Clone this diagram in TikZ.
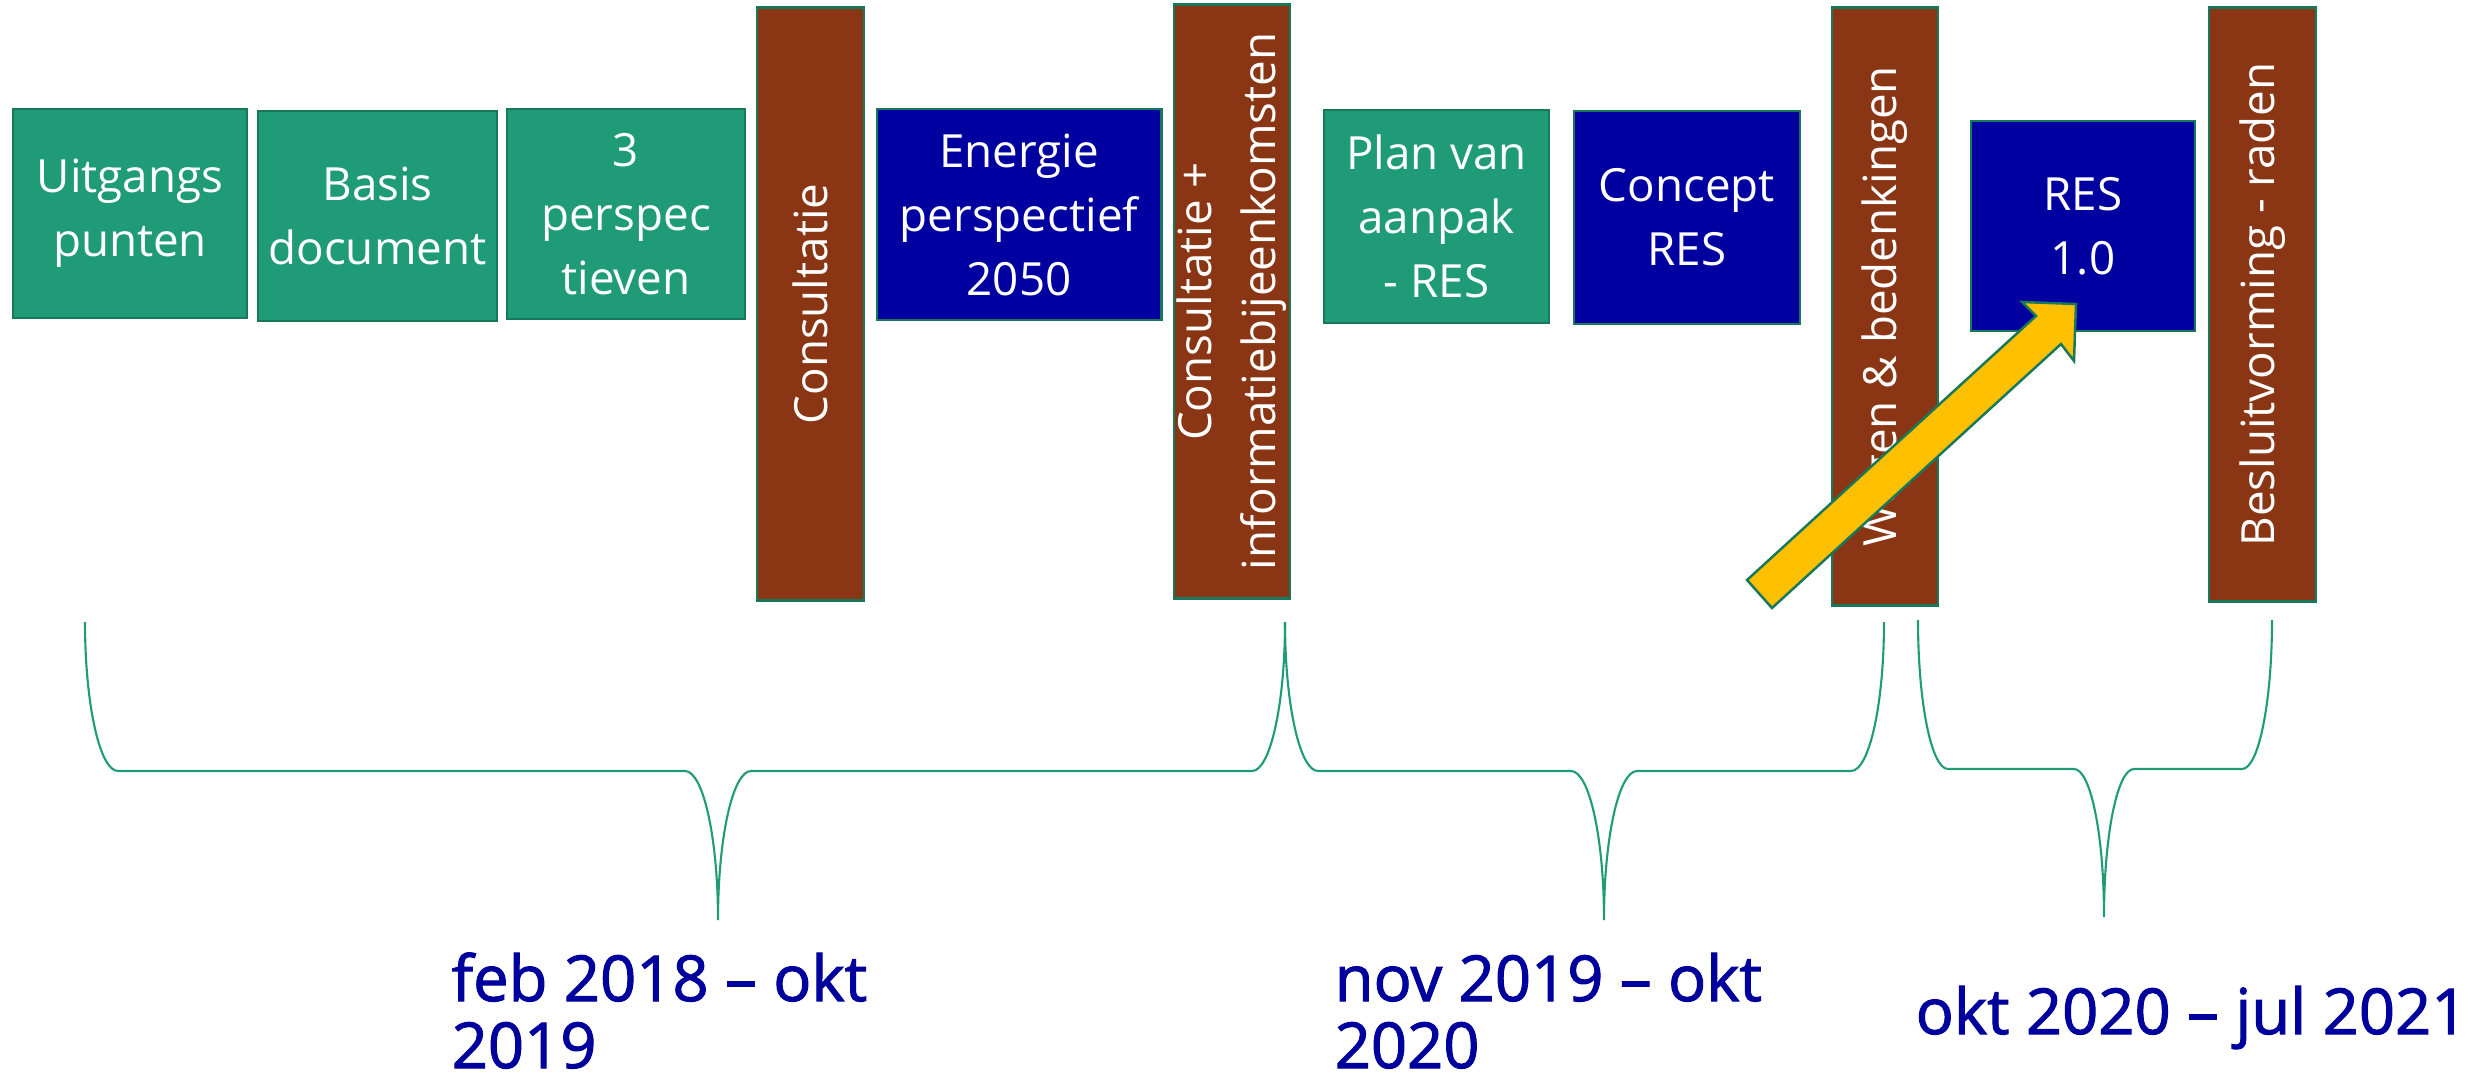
\documentclass[tikz,border=0pt]{standalone}
\usepackage{fontspec}
\setmainfont{Open Sans}
\newfontfamily\datefont[FakeBold=1.6]{Open Sans}
\definecolor{boxgreen}{HTML}{1F9B78}
\definecolor{edgegreen}{HTML}{17785C}
\definecolor{boxblue}{HTML}{0000A0}
\definecolor{boxbrown}{HTML}{8A3615}
\definecolor{arrowyellow}{HTML}{FFC000}
\definecolor{datetext}{HTML}{00009C}
\begin{document}
\begin{tikzpicture}[x=0.01cm,y=-0.01cm,
  box/.style={draw=edgegreen,line width=0.8pt,inner sep=0pt,text=white,align=center,font=\fontsize{13}{18.2}\selectfont},
  greenbox/.style={box,fill=boxgreen},
  bluebox/.style={box,fill=boxblue},
  vbar/.style={box,fill=boxbrown,rotate=90},
  brace/.style={draw=boxgreen,line width=0.6pt},
  datelabel/.style={text=datetext,inner sep=0pt,anchor=base west,font=\datefont\fontsize{18}{19.3}\selectfont},
  blockarrow/.style={fill=arrowyellow,draw=edgegreen,line width=0.7pt,line join=miter}]
\useasboundingbox (0,0) rectangle (2481,1075);

% boxes
\node[greenbox,minimum width=2.34cm,minimum height=2.09cm] (b1) at (130,213.5) {Uitgangs\\punten};
\node[greenbox,minimum width=2.39cm,minimum height=2.10cm] (b2) at (377.5,216) {Basis\\document};
\node[greenbox,minimum width=2.38cm,minimum height=2.10cm] (b3) at (626,214) {3\\perspec\\tieven};
\node[vbar,minimum width=5.92cm,minimum height=1.07cm] (c1) at (810.5,304) {Consultatie};
\node[bluebox,minimum width=2.84cm,minimum height=2.11cm] (b4) at (1019,214.5) {Energie\\perspectief\\2050};
\node[vbar,minimum width=5.93cm,minimum height=1.16cm] (c2) at (1232,301.5) {Consultatie +\\informatiebijeenkomsten};
\node[greenbox,minimum width=2.25cm,minimum height=2.13cm] (b5) at (1436.5,216.5) {Plan van\\aanpak\\- RES};
\node[bluebox,minimum width=2.26cm,minimum height=2.13cm] (b6) at (1687,217.5) {Concept\\RES};
\node[vbar,minimum width=5.97cm,minimum height=1.06cm] (c3) at (1885,306.5) {Wegen \& bedenkingen};
\node[bluebox,minimum width=2.24cm,minimum height=2.10cm] (b7) at (2083,226) {RES\\1.0};
\node[vbar,minimum width=5.93cm,minimum height=1.07cm] (c4) at (2262.5,304.5) {Besluitvorming - raden};

% yellow block arrow
\coordinate (arrowtail) at (1759.5,594);
\coordinate (arrowtip) at (2076,304);
\path[blockarrow] (1747,580) -- (2036,316) -- (2022,302) -- (arrowtip)
  -- (2074,361) -- (2061,344) -- (1772,608) -- cycle;

% braces
\draw[brace] (85,622) .. controls (85,704.3) and (99.8,771) .. (118,771) -- (685,771)
  .. controls (703.2,771) and (718,837.7) .. (718,920)
  .. controls (718,837.7) and (732.8,771) .. (751,771) -- (1252,771)
  .. controls (1270.2,771) and (1285,704.3) .. (1285,622);
\draw[brace] (1285,622) .. controls (1285,704.3) and (1299.8,771) .. (1318,771) -- (1571,771)
  .. controls (1589.2,771) and (1604,837.7) .. (1604,920)
  .. controls (1604,837.7) and (1618.8,771) .. (1637,771) -- (1851,771)
  .. controls (1869.2,771) and (1884,704.3) .. (1884,622);
\draw[brace] (1918,620) .. controls (1918,702.3) and (1931.4,769) .. (1948,769) -- (2074,769)
  .. controls (2090.6,769) and (2104,834.7) .. (2104,917)
  .. controls (2104,834.7) and (2117.4,769) .. (2134,769) -- (2242,769)
  .. controls (2258.6,769) and (2272,702.3) .. (2272,620);

% date labels
\node[datelabel] (d1) at (451,1001) {feb 2018 – okt};
\node[datelabel] (d1b) at (451,1068) {2019};
\node[datelabel] (d2) at (1334,1001) {nov 2019 – okt};
\node[datelabel] (d2b) at (1334,1068) {2020};
\node[datelabel] (d3) at (1915,1034) {okt 2020 – jul 2021};
\end{tikzpicture}
\end{document}
